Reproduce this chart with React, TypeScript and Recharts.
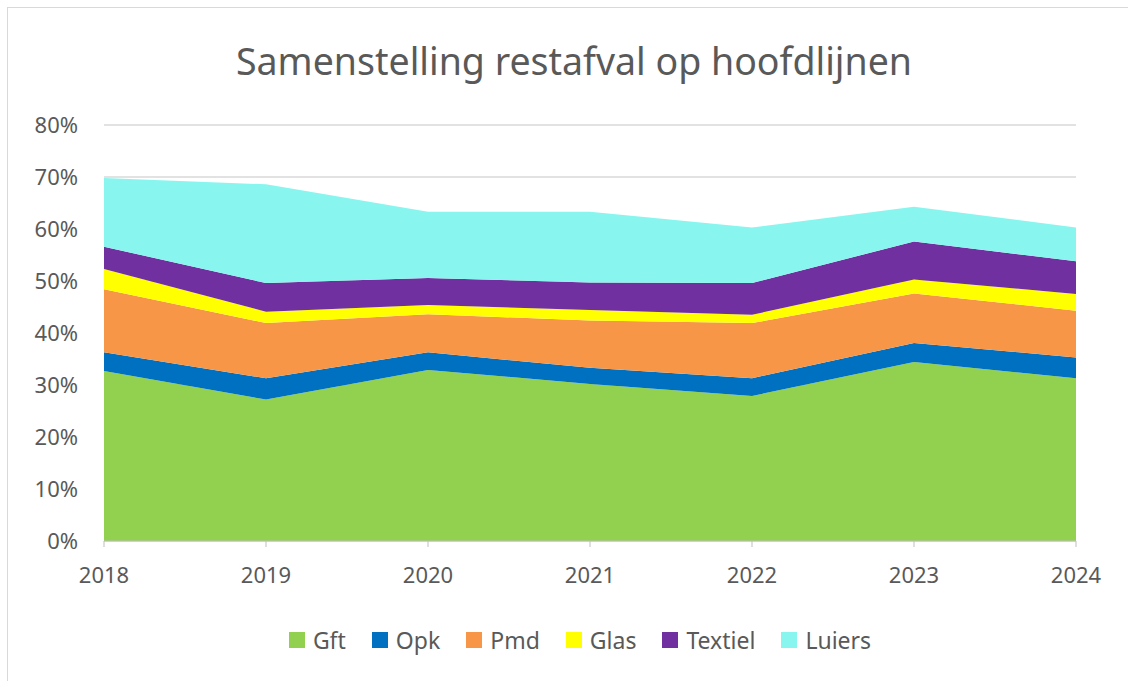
import { AreaChart, Area, CartesianGrid, XAxis, YAxis } from "recharts";

const years = ["2018", "2019", "2020", "2021", "2022", "2023", "2024"];
const gft = [32.7, 27.2, 32.9, 30.2, 27.9, 34.4, 31.3];
const opk = [3.6, 4.1, 3.4, 3.1, 3.4, 3.7, 4.0];
const pmd = [12.1, 10.6, 7.3, 9.1, 10.6, 9.5, 9.0];
const glas = [3.9, 2.2, 1.8, 2.0, 1.6, 2.7, 3.2];
const textiel = [4.3, 5.5, 5.2, 5.3, 6.1, 7.3, 6.3];
const luiers = [13.2, 19.0, 12.7, 13.6, 10.7, 6.7, 6.5];
const yTicks = [0, 10, 20, 30, 40, 50, 60, 70, 80];

const series = [
  { key: "Gft", color: "#92d050" },
  { key: "Opk", color: "#0070c0" },
  { key: "Pmd", color: "#f79646" },
  { key: "Glas", color: "#ffff00" },
  { key: "Textiel", color: "#7030a0" },
  { key: "Luiers", color: "#89f5ef" },
];

const data = years.map((year, i) => ({
  year,
  Gft: gft[i],
  Opk: opk[i],
  Pmd: pmd[i],
  Glas: glas[i],
  Textiel: textiel[i],
  Luiers: luiers[i],
}));

const font = "'Noto Sans', 'Open Sans', sans-serif";
const textColor = "#595959";

export default function App() {
  return (
    <div style={{ position: "absolute", left: 0, top: 0, width: 1128, height: 681, background: "#fff", overflow: "hidden" }}>
      <div style={{ position: "absolute", left: 7, top: 7, width: 1200, height: 800, border: "1px solid #d9d9d9" }} />
      <div
        style={{
          position: "absolute",
          left: 0,
          top: 35,
          width: 1148,
          textAlign: "center",
          fontFamily: font,
          fontSize: 37.5,
          color: textColor,
        }}
      >
        Samenstelling restafval op hoofdlijnen
      </div>
      <div style={{ position: "absolute", left: 0, top: 0 }}>
        <AreaChart width={1128} height={681} data={data} margin={{ top: 125, right: 52, bottom: 110, left: 0 }}>
          <CartesianGrid vertical={false} stroke="#d9d9d9" strokeWidth={1.5} />
          <XAxis
            dataKey="year"
            height={30}
            stroke="#bfbfbf"
            tickSize={6}
            tickMargin={20}
            tick={{ fill: textColor, fontSize: 22, fontFamily: font }}
            interval={0}
          />
          <YAxis
            width={104}
            domain={[0, 80]}
            ticks={yTicks}
            axisLine={false}
            tickLine={false}
            tickSize={0}
            tickMargin={26}
            tickFormatter={(v: number) => `${v}%`}
            tick={{ fill: textColor, fontSize: 22, fontFamily: font }}
          />
          {series.map((s) => (
            <Area
              key={s.key}
              type="linear"
              dataKey={s.key}
              stackId="1"
              stroke="none"
              fill={s.color}
              fillOpacity={1}
              isAnimationActive={false}
            />
          ))}
        </AreaChart>
      </div>
      <div
        style={{
          position: "absolute",
          left: 0,
          top: 624,
          width: 1160,
          display: "flex",
          justifyContent: "center",
          gap: 26,
          fontFamily: font,
          fontSize: 23,
          color: textColor,
        }}
      >
        {series.map((s) => (
          <div key={s.key} style={{ display: "flex", alignItems: "center" }}>
            <span style={{ display: "inline-block", width: 16, height: 16, background: s.color, marginRight: 8 }} />
            <span>{s.key}</span>
          </div>
        ))}
      </div>
    </div>
  );
}
